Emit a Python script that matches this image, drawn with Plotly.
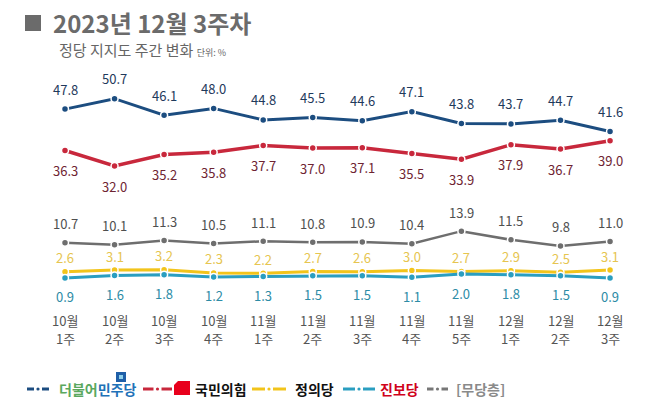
import plotly.graph_objects as go

months = ["10월", "10월", "10월", "10월", "11월", "11월", "11월", "11월", "11월", "12월", "12월", "12월"]
week_nums = ["1주", "2주", "3주", "4주", "1주", "2주", "3주", "4주", "5주", "1주", "2주", "3주"]
minju = [47.8, 50.7, 46.1, 48.0, 44.8, 45.5, 44.6, 47.1, 43.8, 43.7, 44.7, 41.6]
ppp = [36.3, 32.0, 35.2, 35.8, 37.7, 37.0, 37.1, 35.5, 33.9, 37.9, 36.7, 39.0]
nonpartisan = [10.7, 10.1, 11.3, 10.5, 11.1, 10.8, 10.9, 10.4, 13.9, 11.5, 9.8, 11.0]
justice = [2.6, 3.1, 3.2, 2.3, 2.2, 2.7, 2.6, 3.0, 2.7, 2.9, 2.5, 3.1]
progressive = [0.9, 1.6, 1.8, 1.2, 1.3, 1.5, 1.5, 1.1, 2.0, 1.8, 1.5, 0.9]

FONT = "Noto Sans CJK KR"
W, H = 658, 407
ML, MR, MT, MB = 0, 0, 70, 100
PW = W - ML - MR
PH = H - MT - MB

x = list(range(len(months)))

series = [
    ("더불어민주당", minju, "#1c4d80", "#1f3a5c", 20, 3.0),
    ("국민의힘", ppp, "#c8283c", "#6e2432", -20, 3.5),
    ("[무당층]", nonpartisan, "#6e6e6e", "#4f4f4f", 19, 2.5),
    ("정의당", justice, "#f2c41b", "#e6c550", 14, 3.0),
    ("진보당", progressive, "#2a9ec0", "#2d8ca6", -19, 3.0),
]

fig = go.Figure()
annotations = []
for name, vals, lc, tc, off, lw in series:
    fig.add_trace(go.Scatter(
        x=x, y=vals, mode="lines+markers", name=name, showlegend=False,
        line=dict(color=lc, width=lw),
        marker=dict(size=7, color=lc, line=dict(color="white", width=1.5)),
        hoverinfo="skip",
    ))
    for xi, v in zip(x, vals):
        annotations.append(dict(
            x=xi, y=v, xref="x", yref="y", text=f"{v:.1f}", showarrow=False,
            yshift=off, font=dict(family=FONT, size=13, color=tc),
        ))

def px_x(p):
    return (p - ML) / PW

def px_y(p):
    return (H - MB - p) / PH

# category labels (two rows)
for xi, m, wk in zip(x, months, week_nums):
    annotations.append(dict(x=xi, y=px_y(320), xref="x", yref="paper", text=m, showarrow=False,
                            yanchor="middle", font=dict(family=FONT, size=13, color="#555555")))
    annotations.append(dict(x=xi, y=px_y(338), xref="x", yref="paper", text=wk, showarrow=False,
                            yanchor="middle", font=dict(family=FONT, size=13, color="#555555")))

# Title
annotations.append(dict(x=px_x(51), y=px_y(23), xref="paper", yref="paper", xanchor="left", yanchor="middle",
                        text="<b>2023년 12월 3주차</b>", showarrow=False,
                        font=dict(family=FONT, size=24, color="#6b6b6b")))
annotations.append(dict(x=px_x(57), y=px_y(50), xref="paper", yref="paper", xanchor="left", yanchor="middle",
                        text="정당 지지도 주간 변화 <span style='font-size:9px'>단위: %</span>", showarrow=False,
                        font=dict(family=FONT, size=15, color="#666666")))

shapes = [dict(type="rect", xref="paper", yref="paper", x0=px_x(25), x1=px_x(41), y0=px_y(31), y1=px_y(15),
               fillcolor="#6b6b6b", line=dict(width=0))]

legend_items = [
    (27, 49, "#1c4d80", 57, "<b><span style='color:#5aa85e'>더불어</span><span style='color:#1f72b8'>민주당</span></b>", "#1f72b8"),
    (143, 172, "#c8283c", 193, "<b>국민의힘</b>", "#111111"),
    (252, 286, "#f2c41b", 293, "<b>정의당</b>", "#111111"),
    (343, 375, "#2a9ec0", 378, "<b>진보당</b>", "#d0021b"),
    (427, 448, "#777777", 454, "<b>[무당층]</b>", "#8a8a8a"),
]
LY = 389
for x0, x1, col, tx, txt, tcol in legend_items:
    L = x1 - x0
    d = (L - 8) / 2
    shapes.append(dict(type="line", xref="paper", yref="paper", x0=px_x(x0), x1=px_x(x0 + d),
                       y0=px_y(LY), y1=px_y(LY), line=dict(color=col, width=3)))
    shapes.append(dict(type="line", xref="paper", yref="paper", x0=px_x(x1 - d), x1=px_x(x1),
                       y0=px_y(LY), y1=px_y(LY), line=dict(color=col, width=3)))
    cx = (x0 + x1) / 2
    shapes.append(dict(type="circle", xref="paper", yref="paper", x0=px_x(cx - 1.6), x1=px_x(cx + 1.6),
                       y0=px_y(LY + 1.6), y1=px_y(LY - 1.6), fillcolor=col, line=dict(width=0)))
    annotations.append(dict(x=px_x(tx), y=px_y(LY), xref="paper", yref="paper", xanchor="left", yanchor="middle",
                            text=txt, showarrow=False, font=dict(family=FONT, size=14, color=tcol)))

shapes.append(dict(type="rect", xref="paper", yref="paper", x0=px_x(116), x1=px_x(126), y0=px_y(382), y1=px_y(372),
                   fillcolor="#1f5fa8", line=dict(width=0)))
shapes.append(dict(type="rect", xref="paper", yref="paper", x0=px_x(119), x1=px_x(123), y0=px_y(379), y1=px_y(375),
                   fillcolor="#8fd0ea", line=dict(width=0)))
shapes.append(dict(type="path", xref="paper", yref="paper",
                   path=f"M {px_x(178)},{px_y(381)} L {px_x(190)},{px_y(381)} L {px_x(190)},{px_y(395)} L {px_x(174)},{px_y(395)} L {px_x(174)},{px_y(385)} Z",
                   fillcolor="#e8001c", line=dict(width=0)))

x_lo = -(65 - ML) / 49.55
x_hi = x_lo + PW / 49.55
y_top = (281.2 - MT) / 3.6
y_bot = (281.2 - (H - MB)) / 3.6

fig.update_layout(
    width=W, height=H,
    margin=dict(l=ML, r=MR, t=MT, b=MB),
    paper_bgcolor="white", plot_bgcolor="white",
    xaxis=dict(range=[x_lo, x_hi], showticklabels=False, showgrid=False, zeroline=False,
               showline=False, ticks="", fixedrange=True),
    yaxis=dict(range=[y_bot, y_top], visible=False, showgrid=False, zeroline=False, fixedrange=True),
    annotations=annotations, shapes=shapes,
    showlegend=False,
)

fig.write_html("out.html")
